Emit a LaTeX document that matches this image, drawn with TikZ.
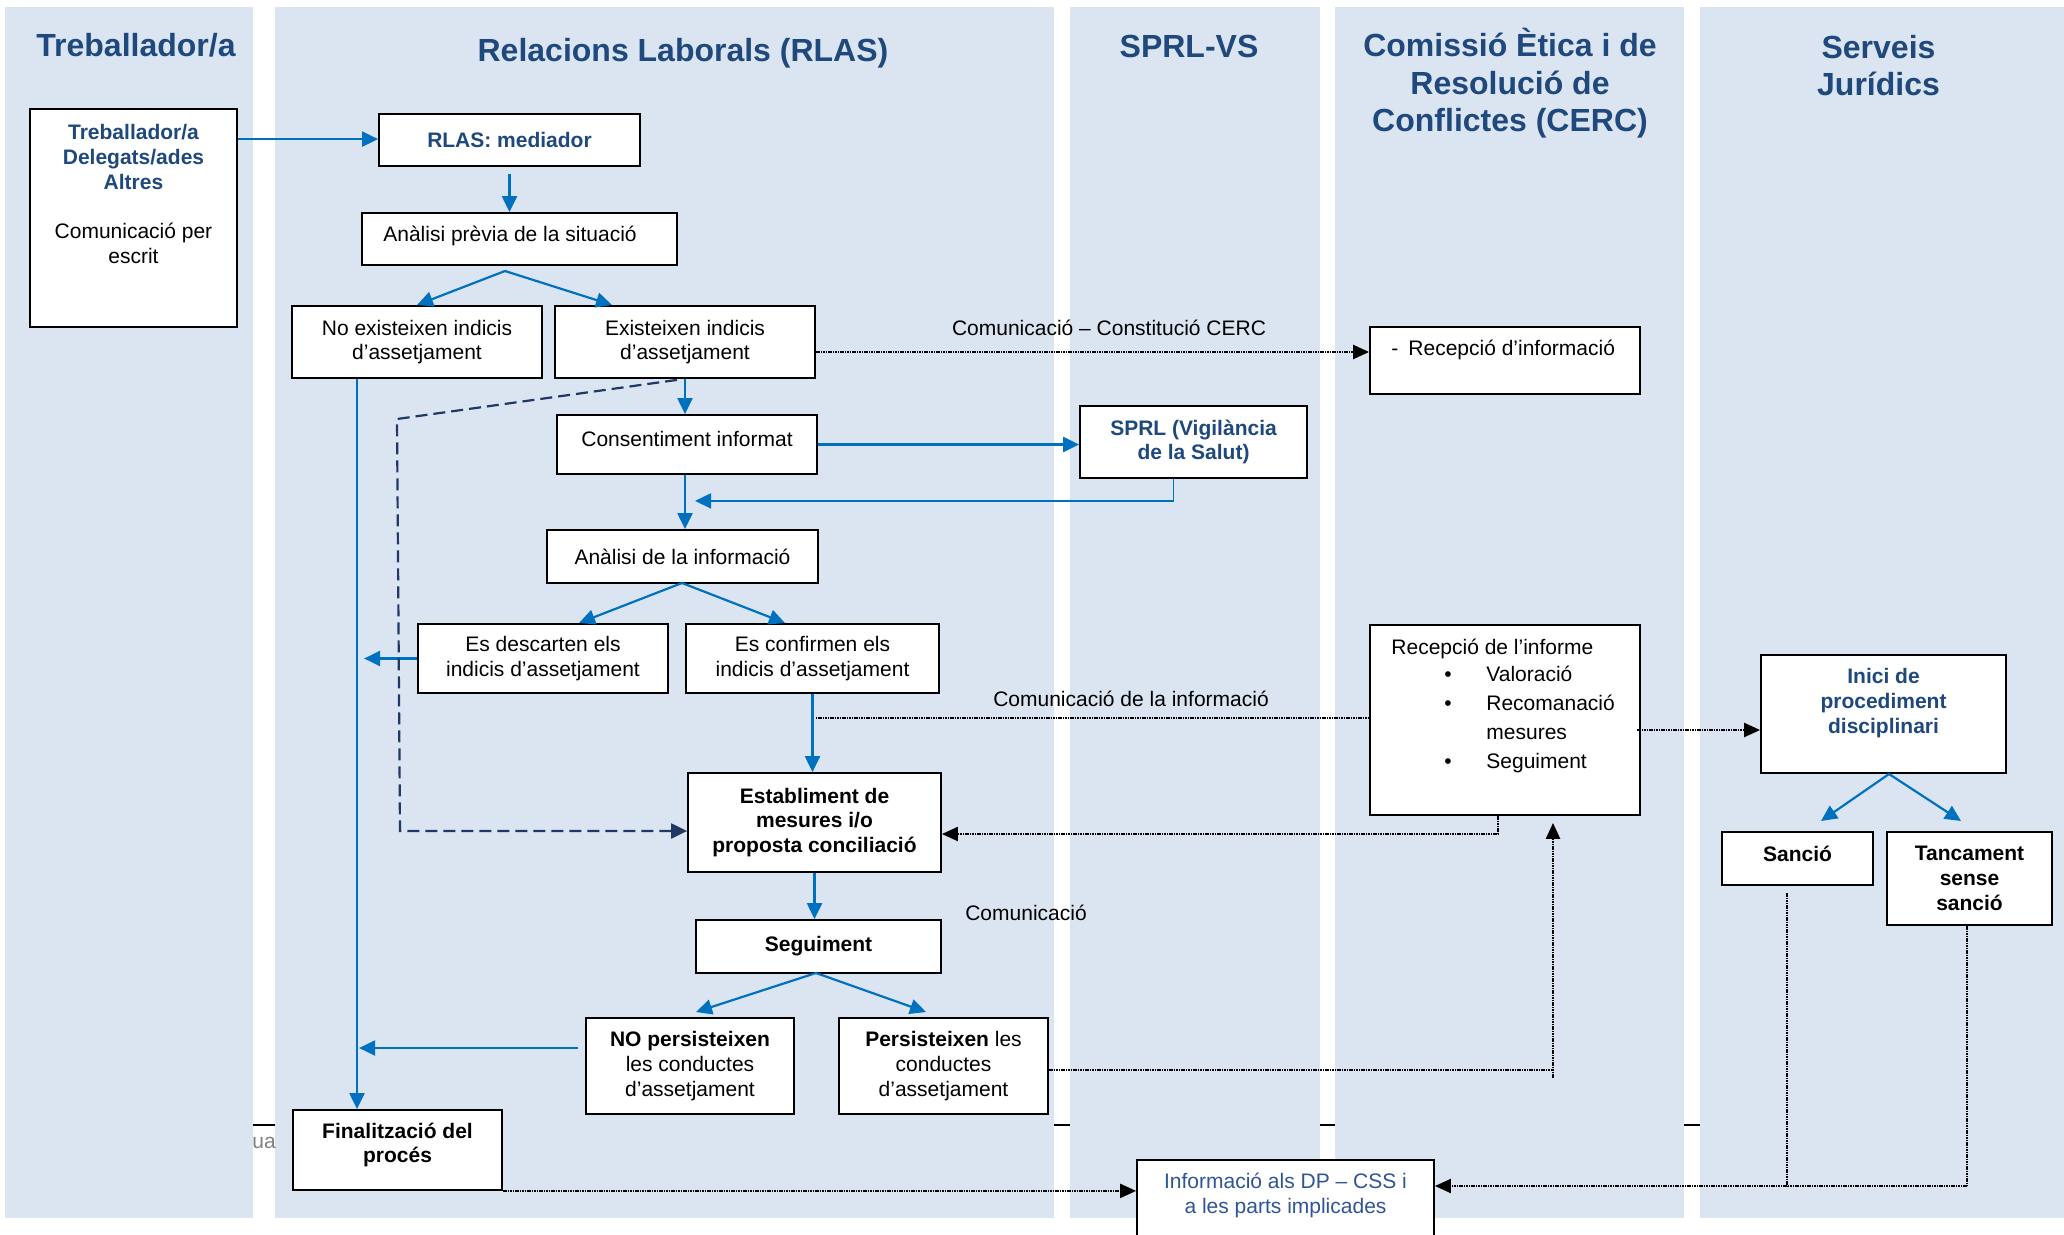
\documentclass[tikz,border=0pt]{standalone}
\usepackage{fontspec}
\setmainfont{Liberation Sans}
\usetikzlibrary{arrows.meta,calc}
\definecolor{lanebg}{HTML}{DBE5F1}
\definecolor{ttl}{HTML}{1F497D}
\definecolor{abl}{HTML}{0070C0}
\definecolor{navyd}{HTML}{1F3864}
\definecolor{infob}{HTML}{2F5597}
\newcommand\bluebf[1]{{\color{ttl}\bfseries #1}}
\begin{document}
\begin{tikzpicture}[x=0.5pt,y=-0.5pt,
  box/.style={draw=black,line width=0.9pt,fill=white,inner sep=0pt,align=center,font=\fontsize{10.5}{12.4}\selectfont},
  bbox/.style={box,font=\fontsize{10.5}{12.4}\selectfont\bfseries},
  txt/.style={inner sep=0pt,align=center,font=\fontsize{10.5}{12.4}\selectfont},
  btxt/.style={txt,font=\fontsize{10.5}{12.4}\selectfont\bfseries},
  ttlnode/.style={inner sep=0pt,align=center,text=ttl,font=\fontsize{16}{18.75}\selectfont\bfseries},
  barr/.style={draw=abl,line width=1.1pt,-{Triangle[length=8pt,width=7.5pt]}},
  dotl/.style={draw=black,line width=1.1pt,dash pattern=on 0.8pt off 0.4pt},
  dotarr/.style={dotl,-{Triangle[length=8pt,width=7pt]}},
  thdot/.style={draw=black,line width=0.7pt,dash pattern=on 0.8pt off 0.4pt},
  dashn/.style={draw=navyd,line width=1.1pt,dash pattern=on 6pt off 3pt,-{Triangle[length=8pt,width=7.5pt]}}
]
\path[use as bounding box] (0,0) rectangle (2064,1235);
% hidden table line
\draw[line width=0.8pt] (253,1125) -- (1700,1125);
% lanes
\fill[lanebg] (5,7) rectangle (253,1218);
\fill[lanebg] (274.5,7) rectangle (1054,1218);
\fill[lanebg] (1070,7) rectangle (1320,1218);
\fill[lanebg] (1335,7) rectangle (1684,1218);
\fill[lanebg] (1700,7) rectangle (2064,1218);
\node[inner sep=0pt,anchor=west,text=gray,font=\fontsize{10.5}{12.4}\selectfont] (ua) at (252,1143) {ua};
% titles
\node[ttlnode] (t1) at (136,45) {Treballador/a};
\node[ttlnode] (t2) at (683,53) {Relacions Laborals (RLAS)};
\node[ttlnode] (t3) at (1189,46) {SPRL-VS};
\node[ttlnode] (t4) at (1510,83.5) {Comissió Ètica i de\\Resolució de\\Conflictes (CERC)};
\node[ttlnode] (t5) at (1878.5,65.5) {Serveis\\Jurídics};
% boxes
\node[box,minimum width=103.5pt,minimum height=109pt] (trab) at (133.5,218) {};
\node[txt] (trabT) at (133.5,194) {\bluebf{Treballador/a}\\\bluebf{Delegats/ades}\\\bluebf{Altres}\\[12.4pt]Comunicació per\\escrit};
\node[box,minimum width=130.5pt,minimum height=26pt] (rlas) at (509.5,140) {\bluebf{RLAS: mediador}};
\node[box,minimum width=157.5pt,minimum height=26pt] (prev) at (519.5,239) {};
\node[txt] (prevT) at (510,236) {Anàlisi prèvia de la situació};
\node[box,minimum width=125pt,minimum height=36pt] (noex) at (417,342) {No existeixen indicis\\d’assetjament};
\node[box,minimum width=130pt,minimum height=36pt] (exist) at (685,342) {Existeixen indicis\\d’assetjament};
\node[box,minimum width=130pt,minimum height=29.5pt] (cons) at (687,444.5) {};
\node[txt] (consT) at (687,439) {Consentiment informat};
\node[box,minimum width=135.5pt,minimum height=26.5pt] (anal) at (682.5,556.5) {Anàlisi de la informació};
\node[box,minimum width=125pt,minimum height=34.5pt] (desc) at (543,658.5) {Es descarten els\\indicis d’assetjament};
\node[box,minimum width=126.5pt,minimum height=34.5pt] (conf) at (812.5,658.5) {Es confirmen els\\indicis d’assetjament};
\node[bbox,minimum width=126.5pt,minimum height=49.5pt] (estab) at (814.5,822.5) {Establiment de\\mesures i/o\\proposta conciliació};
\node[bbox,minimum width=122.5pt,minimum height=26.5pt] (segu) at (818.5,946.5) {Seguiment};
\node[box,minimum width=104pt,minimum height=48pt] (nopers) at (690,1066) {\textbf{NO persisteixen}\\les conductes\\d’assetjament};
\node[box,minimum width=104.5pt,minimum height=48pt] (pers) at (943.5,1066) {\textbf{Persisteixen} les\\conductes\\d’assetjament};
\node[box,minimum width=104.5pt,minimum height=40pt] (final) at (397.5,1150) {};
\node[btxt] (finalT) at (397.5,1145) {Finalització del\\procés};
\node[box,minimum width=113.5pt,minimum height=36pt] (sprl) at (1193.5,442) {\bluebf{SPRL (Vigilància}\\\bluebf{de la Salut)}};
\node[box,minimum width=135pt,minimum height=33.5pt] (recinfo) at (1505,360.5) {};
\node[txt,anchor=west] (recinfoT) at (1391,350) {-\hspace{5pt}Recepció d’informació};
\node[box,minimum width=135pt,minimum height=95pt] (recinf2) at (1505,720) {};
\node[txt,anchor=west,align=left] (recinf2T) at (1391,706) {Recepció de l’informe\\[0.75pt]\hspace*{26.5pt}\makebox[21pt][l]{•}Valoració\\[2.5pt]\hspace*{26.5pt}\makebox[21pt][l]{•}Recomanació\\[1.75pt]\hspace*{47.5pt}mesures\\[2.25pt]\hspace*{26.5pt}\makebox[21pt][l]{•}Seguiment};
\node[box,minimum width=122.5pt,minimum height=59pt] (inici) at (1883.5,714) {};
\node[txt] (iniciT) at (1883.5,703) {\bluebf{Inici de}\\\bluebf{procediment}\\\bluebf{disciplinari}};
\node[box,minimum width=75.5pt,minimum height=26.5pt] (sancio) at (1797.5,858.5) {};
\node[btxt] (sancioT) at (1797.5,854) {Sanció};
\node[bbox,minimum width=82.5pt,minimum height=46.5pt] (tanc) at (1969.5,878.5) {Tancament\\sense\\sanció};
\node[box,minimum width=148.5pt,minimum height=45pt] (info) at (1285.5,1205) {};
\node[txt,text=infob] (infoT) at (1285.5,1195.5) {Informació als DP – CSS i\\a les parts implicades};
% labels
\node[txt] (lab1) at (1109,328) {Comunicació – Constitució CERC};
\node[txt] (lab2) at (1131,699) {Comunicació de la informació};
\node[txt] (lab3) at (1026,913) {Comunicació};
% coordinates
\coordinate (c1) at (505,271); \coordinate (c1l) at (417,305); \coordinate (c1r) at (612,305);
\coordinate (c2) at (682,583); \coordinate (c2l) at (579,623); \coordinate (c2r) at (785,623);
\coordinate (c3) at (816,973); \coordinate (c3l) at (696,1012); \coordinate (c3r) at (926,1012);
\coordinate (c4) at (1889,774); \coordinate (c4l) at (1821,821); \coordinate (c4r) at (1961,821);
\coordinate (noexS) at ($(noex.south)+(-60,0)$);
\coordinate (d0) at ($(exist.south)+(-8,1)$);
\coordinate (d1) at (397,419);
\coordinate (d2) at (400,831);
\coordinate (ci) at ($(conf.south)+(3,24)$);
\coordinate (ce) at ($(exist.east)+(0,10)$);
\coordinate (rb) at ($(recinf2.south)+(-7,0)$);
\coordinate (rt) at ($(estab.east)+(0,11.5)$);
\coordinate (np) at ($(nopers.west)+(-7,-18)$);
\coordinate (pc) at (1553,1070);
\coordinate (pcb) at (1553,1078);
\coordinate (pu) at ($(recinf2.south)+(48,7)$);
\coordinate (ri) at ($(recinf2.east)+(-4,10)$);
\coordinate (sj) at (1787,1186);
\coordinate (tj) at (1967,1186);
\coordinate (ts) at ($(trab.north east)+(0,31)$);
\coordinate (rs) at ($(rlas.south)+(0,7)$);
\coordinate (ss) at ($(sprl.south)+(-20,0)$);
\coordinate (se) at ($(cons.south)+(8,26)$);
% blue connectors
\draw[barr] (ts) -- (ts -| rlas.west);
\draw[barr] (rs) -- (rs |- prev.north);
\draw[barr] (c1) -- (c1l);
\draw[barr] (c1) -- (c1r);
\draw[barr] (exist.south) -- (exist.south |- cons.north);
\draw[barr] (cons.south -| exist.south) -- (exist.south |- anal.north);
\draw[barr] (cons.east) -- (cons.east -| sprl.west);
\draw[draw=abl,line width=0.9pt,-{Triangle[length=8pt,width=7.5pt]}] (ss) |- (se);
\draw[barr] (c2) -- (c2l);
\draw[barr] (c2) -- (c2r);
\draw[barr] (desc.west) -- ++(-53,0);
\draw[barr] (noexS) -- (noexS |- final.north);
\draw[barr] (conf.south) -- (conf.south |- estab.north);
\draw[barr] (estab.south) -- (estab.south |- segu.north);
\draw[barr] (c3) -- (c3l);
\draw[barr] (c3) -- (c3r);
\draw[barr] (np) -- ++(-219,0);
\draw[barr] (c4) -- (c4l);
\draw[barr] (c4) -- (c4r);
% dashed
\draw[dashn] (d0) -- (d1) -- (d2) -- (d2 -| estab.west);
% black dotted
\draw[dotarr] (ce) -- (ce -| recinfo.west);
\draw[dotl] (ci) -- (ci -| recinf2.west);
\draw[dotarr] (rb) |- (rt);
\draw[dotl] (pers.east |- pc) -- (pc);
\draw[dotarr] (pcb) -- (pu);
\draw[dotarr] (ri) -- (ri -| inici.west);
\draw[thdot] (sj |- sancio.south) ++(0,7) -- (sj);
\draw[thdot] (tj |- tanc.south) -- (tj);
\draw[dotarr] (tj) -- (tj -| info.east);
\draw[dotarr] (final.south east) -- (final.south east -| info.west);
\end{tikzpicture}
\end{document}
